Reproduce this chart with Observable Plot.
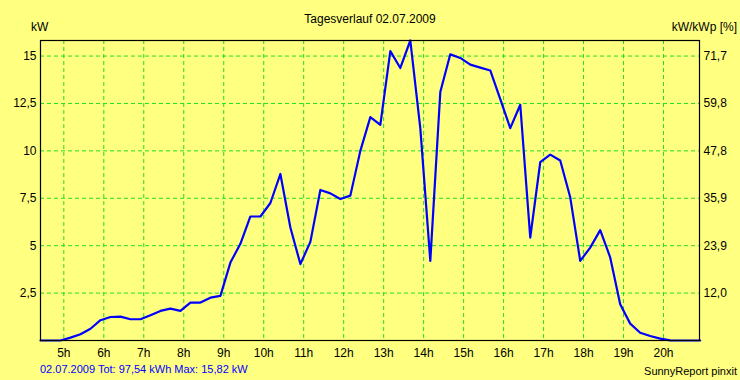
<!DOCTYPE html>
<html>
<head>
<meta charset="utf-8">
<script src="https://cdn.jsdelivr.net/npm/d3@7"></script>
<script src="https://cdn.jsdelivr.net/npm/@observablehq/plot@0.6"></script>
<style>
  html, body { margin: 0; padding: 0; background: #FFFF80; }
  #wrap { position: relative; width: 740px; height: 380px; background: #FFFF80; font-family: "Liberation Sans", Arial, sans-serif; overflow: hidden; }
  .t { position: absolute; white-space: nowrap; line-height: 1; }
</style>
</head>
<body>
<div id="wrap">
  <div class="t" id="title" style="left:0;width:740px;text-align:center;top:13px;font-size:12px;color:#000;">Tagesverlauf 02.07.2009</div>
  <div class="t" style="left:31px;top:21px;font-size:12px;color:#000;">kW</div>
  <div class="t" style="right:3px;top:21px;font-size:12px;color:#000;">kW/kWp [%]</div>
  <div class="t" style="left:40px;top:364px;font-size:11px;color:#0000FF;">02.07.2009 Tot: 97,54 kWh Max: 15,82 kW</div>
  <div class="t" style="right:3px;top:366px;font-size:11px;color:#000;">SunnyReport pinxit</div>
</div>
<script>
// Sample times (15-minute readings)
const times = [
  "4:25","4:40","4:55","5:10","5:25","5:40","5:55","6:10","6:25","6:40",
  "6:55","7:10","7:25","7:40","7:55","8:10","8:25","8:40","8:55","9:10",
  "9:25","9:40","9:55","10:10","10:25","10:40","10:55","11:10","11:25","11:40",
  "11:55","12:10","12:25","12:40","12:55","13:10","13:25","13:40","13:55","14:10",
  "14:25","14:40","14:55","15:10","15:25","15:40","15:55","16:10","16:25","16:40",
  "16:55","17:10","17:25","17:40","17:55","18:10","18:25","18:40","18:55","19:10",
  "19:25","19:40","19:55","20:10","20:25","20:40","20:55"
];
// Power in kW
const powerKW = [
  0, 0, 0, 0.15, 0.33, 0.62, 1.07, 1.24, 1.26, 1.12,
  1.12, 1.33, 1.56, 1.68, 1.56, 2.0, 2.0, 2.26, 2.35, 4.11,
  5.1, 6.54, 6.54, 7.25, 8.78, 5.96, 4.03, 5.2, 7.94, 7.76,
  7.46, 7.64, 10.0, 11.78, 11.37, 15.26, 14.37, 15.82, 11.2, 4.2,
  13.1, 15.09, 14.9, 14.55, 14.39, 14.24, 12.73, 11.2, 12.43, 5.43,
  9.4, 9.8, 9.49, 7.55, 4.2, 4.9, 5.82, 4.38, 1.91, 0.89,
  0.41, 0.24, 0.1, 0.01, 0, 0, 0
];
const hourTicks = [5,6,7,8,9,10,11,12,13,14,15,16,17,18,19,20];
const hourLabels = ["5h","6h","7h","8h","9h","10h","11h","12h","13h","14h","15h","16h","17h","18h","19h","20h"];
const kwTicks = [2.5, 5, 7.5, 10, 12.5, 15];
const kwLabels = ["2,5","5","7,5","10","12,5","15"];
const pctLabels = ["12,0","23,9","35,9","47,8","59,8","71,7"];
const yMax = 15.82;

const toHour = s => { const [h, m] = s.split(":").map(Number); return h + m / 60; };
const data = times.map((t, i) => ({ t: toHour(t), kw: powerKW[i] }));

const grid = "#22e022";
const chart = Plot.plot({
  width: 740,
  height: 380,
  marginLeft: 40,
  marginRight: 41,
  marginTop: 40,
  marginBottom: 40,
  style: { background: "transparent", fontFamily: "'Liberation Sans', Arial, sans-serif", fontSize: "12px", color: "#000" },
  x: { domain: [toHour(times[0]), 20.9] },
  y: { domain: [0, yMax] },
  marks: [
    Plot.ruleY(kwTicks, { stroke: grid, strokeWidth: 1, strokeDasharray: "4,3" }),
    Plot.ruleX(hourTicks, { stroke: grid, strokeWidth: 1, strokeDasharray: "4,3" }),
    Plot.line(data, { x: "t", y: "kw", stroke: "#0000FF", strokeWidth: 2.2 }),
    Plot.frame({ stroke: "#000", strokeWidth: 1.2 }),
    Plot.axisX({ ticks: hourTicks, tickFormat: (d, i) => hourLabels[i], tickSize: 0, tickPadding: 8, label: null, fill: "#000" }),
    Plot.axisY({ anchor: "left", ticks: kwTicks, tickFormat: (d, i) => kwLabels[i], tickSize: 0, tickPadding: 4, label: null, fill: "#000" }),
    Plot.axisY({ anchor: "right", ticks: kwTicks, tickFormat: (d, i) => pctLabels[i], tickSize: 0, tickPadding: 4, label: null, fill: "#000" })
  ]
});
chart.style.position = "absolute";
chart.style.left = "0";
chart.style.top = "0";
document.getElementById("wrap").appendChild(chart);
</script>
</body>
</html>
